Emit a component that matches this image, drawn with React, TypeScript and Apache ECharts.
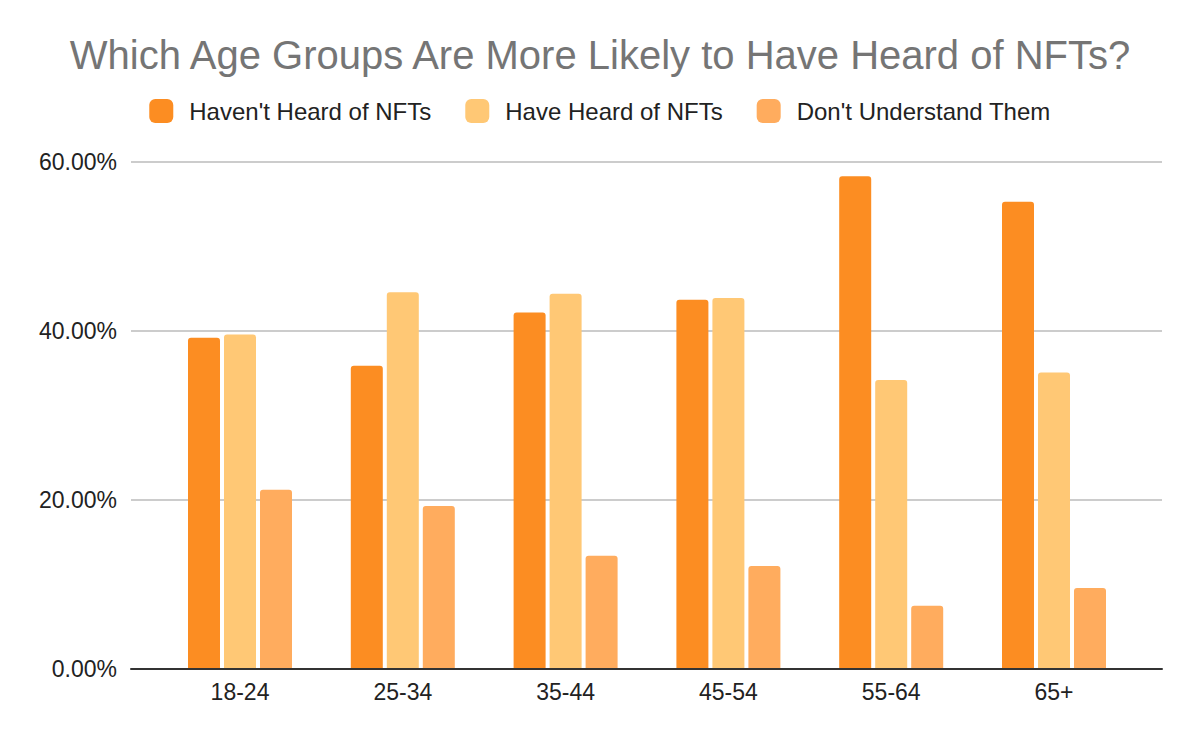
import React, { useEffect, useRef } from 'react'
import * as echarts from 'echarts'

const ageGroups = ['18-24', '25-34', '35-44', '45-54', '55-64', '65+']
const haventHeard = [39.2, 35.9, 42.2, 43.7, 58.3, 55.3]
const haveHeard = [39.6, 44.6, 44.4, 43.9, 34.2, 35.1]
const dontUnderstand = [21.2, 19.3, 13.4, 12.2, 7.5, 9.6]
const seriesNames = ["Haven't Heard of NFTs", 'Have Heard of NFTs', "Don't Understand Them"]
const colors = ['#FC8D22', '#FFC875', '#FFAC5E']

const font = '"Liberation Sans", Arial, sans-serif'

const App = () => {
    const chart: any = useRef()

    useEffect(() => {
        document.body.style.margin = '0'
        const myChart = echarts.init(chart.current, null, { renderer: 'svg' })
        const values = [haventHeard, haveHeard, dontUnderstand]
        const series: any = values.map((data, i) => ({
            type: 'bar',
            name: seriesNames[i],
            data,
            xAxisIndex: 1,
            yAxisIndex: 1,
            barWidth: 32,
            barGap: '12.5%',
            itemStyle: { color: colors[i], borderRadius: [3, 3, 0, 0] },
        }))

        myChart.setOption({
            animation: false,
            color: colors,
            textStyle: { fontFamily: font },
            title: {
                text: 'Which Age Groups Are More Likely to Have Heard of NFTs?',
                left: 'center',
                top: 30,
                textStyle: { fontFamily: font, fontSize: 40, fontWeight: 'normal', color: '#757575' },
            },
            legend: {
                data: seriesNames,
                top: 94,
                left: 'center',
                icon: 'roundRect',
                itemWidth: 24,
                itemHeight: 24,
                itemGap: 34,
                textStyle: { fontFamily: font, fontSize: 24, color: '#222', padding: [0, 0, 0, 11] },
            },
            grid: [
                { left: 131, right: 38, top: 162, bottom: 73 },
                { left: 158.6, right: 64.6, top: 162, bottom: 73 },
            ],
            xAxis: [
                {
                    type: 'category',
                    gridIndex: 0,
                    data: ageGroups,
                    axisLine: { show: true, lineStyle: { color: '#333', width: 2 } },
                    axisTick: { show: false },
                    axisLabel: { show: false },
                    splitLine: { show: false },
                    z: 5,
                },
                {
                    type: 'category',
                    gridIndex: 1,
                    data: ageGroups,
                    axisLine: { show: false },
                    axisTick: { show: false },
                    axisLabel: { fontFamily: font, fontSize: 23, color: '#222', margin: 11 },
                },
            ],
            yAxis: [
                {
                    type: 'value',
                    gridIndex: 0,
                    min: 0,
                    max: 60,
                    interval: 20,
                    axisLine: { show: false },
                    axisTick: { show: false },
                    axisLabel: {
                        fontFamily: font,
                        fontSize: 23,
                        color: '#222',
                        margin: 14,
                        formatter: (v: number) => `${v.toFixed(2)}%`,
                    },
                    splitLine: { show: true, lineStyle: { color: '#cccccc', width: 2 } },
                },
                {
                    type: 'value',
                    gridIndex: 1,
                    min: 0,
                    max: 60,
                    interval: 20,
                    show: false,
                    splitLine: { show: false },
                },
            ],
            series,
        })
        return () => {
            myChart.dispose()
        }
    }, [])

    return <div ref={chart} style={{ width: 1200, height: 742 }} />
}

export default App
